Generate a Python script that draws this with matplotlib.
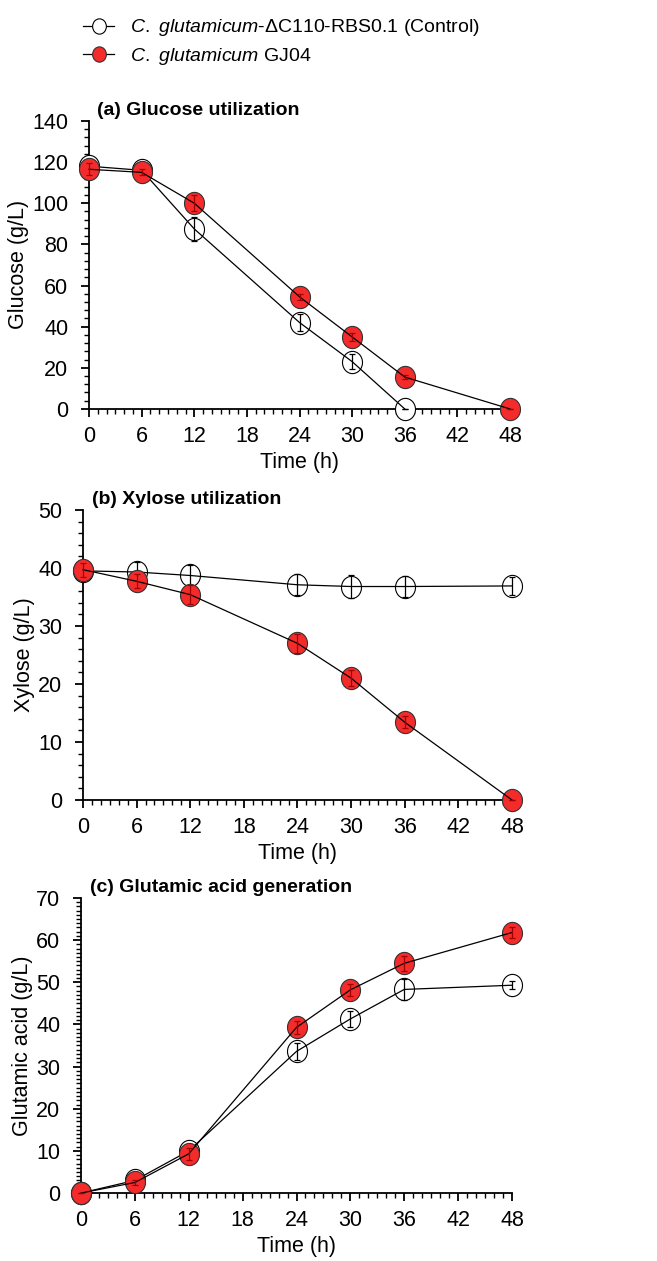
import matplotlib
matplotlib.use("Agg")
import matplotlib.pyplot as plt
from matplotlib.ticker import MultipleLocator
from matplotlib.lines import Line2D
from matplotlib.path import Path
from matplotlib.transforms import Affine2D
import numpy as np

plt.rcParams['font.family'] = ['Liberation Sans', 'DejaVu Sans']
plt.rcParams['mathtext.fontset'] = 'custom'
plt.rcParams['mathtext.it'] = 'Liberation Sans:italic'
plt.rcParams['mathtext.rm'] = 'Liberation Sans'

time = [0, 6, 12, 24, 30, 36, 48]

# (a) glucose
glc_ctrl = [118, 116, 87.5, 42, 23, 0, np.nan]
glc_ctrl_err = [1, 1, 6, 4, 3.5, 0, 0]
glc_gj04 = [116.5, 115, 100, 54.5, 35, 15.5, 0]
glc_gj04_err = [3, 1.5, 4, 1.5, 2, 1, 0]

# (b) xylose
xyl_ctrl = [39.5, 39.3, 38.7, 37.1, 36.8, 36.8, 36.9]
xyl_ctrl_err = [1, 1.8, 1.8, 1.8, 2, 1.8, 1.5]
xyl_gj04 = [39.7, 37.7, 35.4, 27.0, 21.0, 13.4, 0]
xyl_gj04_err = [1.2, 1.2, 1.6, 1.6, 1.4, 1.0, 0]

# (c) glutamic acid
glu_ctrl = [0, 3, 10, 33.6, 41.3, 48.3, 49.3]
glu_ctrl_err = [0, 0.5, 1, 2, 2, 2.5, 1]
glu_gj04 = [0, 2.5, 9.3, 39.3, 48.2, 54.5, 61.8]
glu_gj04_err = [0, 0.5, 1.5, 1.5, 1.5, 1.8, 1.2]

panels = [
    ("(a) Glucose utilization", "Glucose (g/L)", glc_ctrl, glc_ctrl_err, glc_gj04, glc_gj04_err, 140, 20, 4,
     [0.1355, 0.6757, 0.6408, 0.2284]),
    ("(b) Xylose utilization", "Xylose (g/L)", xyl_ctrl, xyl_ctrl_err, xyl_gj04, xyl_gj04_err, 50, 10, 2,
     [0.1263, 0.3656, 0.653, 0.230]),
    ("(c) Glutamic acid generation", "Glutamic acid (g/L)", glu_ctrl, glu_ctrl_err, glu_gj04, glu_gj04_err, 70, 10, 1,
     [0.1233, 0.0539, 0.656, 0.234]),
]

red = '#F42B2B'
# slightly tall ellipse, like the stretched original
oval = Path.unit_circle().transformed(Affine2D().scale(0.9, 1.0))

fig = plt.figure(figsize=(6.57, 12.61), dpi=100)

for title, ylab, c, ce, g, ge, ymax, ymaj, ymin, pos in panels:
    ax = fig.add_axes(pos)
    for y, e, fc, ec, erc, z in [(c, ce, 'white', 'black', 'black', 3), (g, ge, red, '#333333', '#A00000', 6)]:
        ax.plot(time, y, ls='none', marker=oval, ms=16, mfc=fc, mec=ec, mew=0.8,
                clip_on=False, zorder=z)
        ax.plot(time, y, color='black', lw=0.9, clip_on=False, zorder=z + 1)
        ax.errorbar(time, y, yerr=e, fmt='none', ecolor=erc, elinewidth=0.9,
                    capsize=2.5, capthick=0.9, clip_on=False, zorder=z + 2)
    ax.set_xlim(0, 48)
    ax.set_ylim(0, ymax)
    ax.xaxis.set_major_locator(MultipleLocator(6))
    ax.xaxis.set_minor_locator(MultipleLocator(1))
    ax.yaxis.set_major_locator(MultipleLocator(ymaj))
    ax.yaxis.set_minor_locator(MultipleLocator(ymin))
    ax.spines['top'].set_visible(False)
    ax.spines['right'].set_visible(False)
    ax.spines['left'].set_linewidth(1.3)
    ax.spines['bottom'].set_linewidth(1.3)
    ax.tick_params(which='major', direction='out', length=6, width=1.3, labelsize=15.5)
    ax.tick_params(axis='x', which='major', pad=6)
    ax.tick_params(axis='y', which='major', pad=9)
    ax.tick_params(which='minor', direction='out', length=3.5, width=1.0)
    ax.set_xlabel("Time (h)", fontsize=15.5, labelpad=4)
    ax.set_ylabel(ylab, fontsize=15.5, labelpad=2)
    ax.set_title(title, fontsize=14, fontweight='bold', loc='left', x=0.02, pad=4)

handles = [
    Line2D([], [], color='black', lw=0.9, marker=oval, ms=11, mfc='white', mec='black', mew=0.8),
    Line2D([], [], color='black', lw=0.9, marker=oval, ms=11, mfc=red, mec='#333333', mew=0.8),
]
labels = [r"$\it{C.\ glutamicum}$-ΔC110-RBS0.1 (Control)", r"$\it{C.\ glutamicum}$ GJ04"]
fig.legend(handles, labels, loc='upper left', bbox_to_anchor=(0.1, 1.0), frameon=False,
           fontsize=14, handlelength=1.6, labelspacing=0.4, handletextpad=0.8)

fig.savefig("out.png", dpi=100)
